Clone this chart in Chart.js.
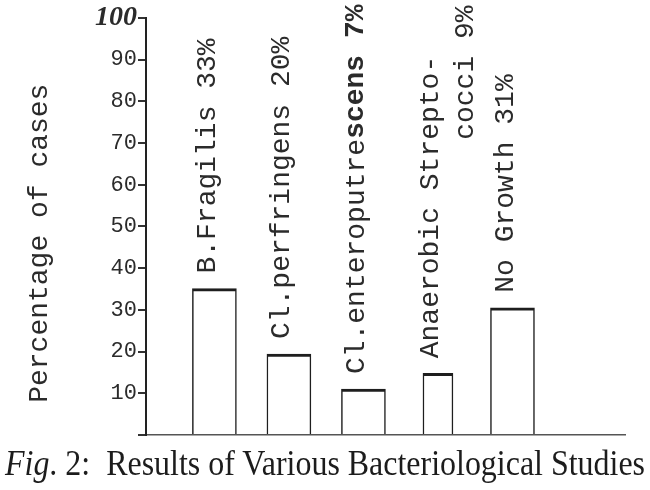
<!DOCTYPE html>
<html>
<head>
<meta charset="utf-8">
<title>Fig. 2</title>
<script src="https://cdn.jsdelivr.net/npm/chart.js@4.4.0/dist/chart.umd.min.js"></script>
<style>
  html, body { margin: 0; padding: 0; background: #fff; }
  #cntr { position: relative; width: 650px; height: 490px; overflow: hidden; }
  #leyenda {
    position: absolute; left: 5px; top: 444px;
    font-family: "Liberation Serif", "Times New Roman", serif;
    font-size: 35px; color: #1c1c1c; white-space: nowrap;
    transform-origin: 0 0;
  }
</style>
</head>
<body>
<div id="cntr">
  <canvas id="myChart" width="650" height="490"></canvas>
  <div id="leyenda"><i>Fig</i>. 2:&nbsp; Results of Various Bacteriological Studies</div>
</div>
<script>
// Datos
const categorias = ['B.Fragilis', 'Cl.perfringens', 'Cl.enteroputrescens', 'Anaerobic Streptococci', 'No Growth'];
const etiquetas = [
  ['B.Fragilis 33%'],
  ['Cl.perfringens 20%'],
  ['Cl.enteroputrescens 7%'],
  ['Anaerobic Strepto-', '             cocci 9%'],
  ['No Growth 31%']
];
const valores = [35.1, 19.4, 11.0, 14.8, 30.5];
const marcasY = [0, 10, 20, 30, 40, 50, 60, 70, 80, 90, 100];

// Constantes de estilo
const tinta = '#2b2b2b';
const fuenteMaquina = '"Liberation Mono", "DejaVu Sans Mono", monospace';
const estrecha = 3; // la barra de estreptococos es mas estrecha

/**
 * * Plugin que escribe las etiquetas verticales encima de cada barra
 */
const etiquetasBarras = {
  id: 'etiquetasBarras',
  afterDatasetsDraw(chart) {
    const ctx = chart.ctx;
    const negritaDesde = { 2: 14 }; // "scens 7%" esta repasado a maquina
    chart.data.datasets.forEach((ds, d) => {
      chart.getDatasetMeta(d).data.forEach((barra, j) => {
        const i = ds.data[j].x;
        ctx.save();
        ctx.translate(barra.x - 7, barra.y - 15);
        ctx.rotate(-Math.PI / 2);
        ctx.textAlign = 'left';
        ctx.textBaseline = 'middle';
        ctx.fillStyle = tinta;
        etiquetas[i].forEach((linea, k) => {
          const corte = k === 0 && negritaDesde[i] !== undefined ? negritaDesde[i] : linea.length;
          ctx.font = '28px ' + fuenteMaquina;
          const normal = linea.slice(0, corte);
          ctx.fillText(normal, 0, k * 35);
          const ancho = ctx.measureText(normal).width;
          ctx.font = 'bold 28px ' + fuenteMaquina;
          ctx.fillText(linea.slice(corte), ancho, k * 35);
        });
        ctx.restore();
      });
    });
  }
};

const puntos = valores.map((v, i) => ({ x: i, y: v }));
const estiloBarra = {
  grouped: false,
  backgroundColor: '#ffffff',
  borderColor: '#1e1e1e',
  borderWidth: { top: 3, left: 1.5, right: 1.5, bottom: 0 },
  borderSkipped: 'start'
};

const ctx = document.getElementById('myChart');
new Chart(ctx, {
  type: 'bar',
  data: {
    labels: categorias,
    datasets: [{
      ...estiloBarra,
      label: 'Percentage of cases',
      data: puntos.filter(p => p.x !== estrecha),
      barThickness: 44
    }, {
      ...estiloBarra,
      label: 'Percentage of cases',
      data: puntos.filter(p => p.x === estrecha),
      barThickness: 30
    }]
  },
  plugins: [etiquetasBarras],
  options: {
    responsive: false,
    animation: false,
    devicePixelRatio: 1,
    layout: { padding: { top: 12, right: 25, bottom: 47, left: 0 } },
    plugins: {
      legend: { display: false },
      tooltip: { enabled: false },
      colors: { enabled: false }
    },
    scales: {
      x: {
        type: 'linear',
        offset: false,
        min: -0.918,
        max: 5.51,
        ticks: { display: false },
        grid: { display: false },
        border: { display: true, color: '#555', width: 1.5, dash: [7, 2] }
      },
      y: {
        min: 0,
        max: 100,
        afterBuildTicks: scale => { scale.ticks = marcasY.map(v => ({ value: v })); },
        afterFit: scale => { scale.width = 146; },
        ticks: {
          padding: 1,
          color: tinta,
          callback: v => v === 0 ? '' : v,
          font: c => c.tick && c.tick.value === 100
            ? { family: '"Liberation Serif", serif', size: 28, weight: 'bold', style: 'italic' }
            : { family: fuenteMaquina, size: 22 }
        },
        grid: { drawOnChartArea: false, tickLength: 8, color: '#333', lineWidth: 2 },
        border: { color: '#222', width: 2 },
        title: {
          display: true,
          text: 'Percentage of cases  ',
          color: tinta,
          font: { family: fuenteMaquina, size: 28 },
          padding: { top: 23, bottom: 0 }
        }
      }
    }
  }
});

// Ajustamos el pie de figura al ancho del original
const leyenda = document.getElementById('leyenda');
const anchoLeyenda = leyenda.getBoundingClientRect().width;
leyenda.style.transform = 'scaleX(' + (640 / anchoLeyenda) + ')';
</script>
</body>
</html>
